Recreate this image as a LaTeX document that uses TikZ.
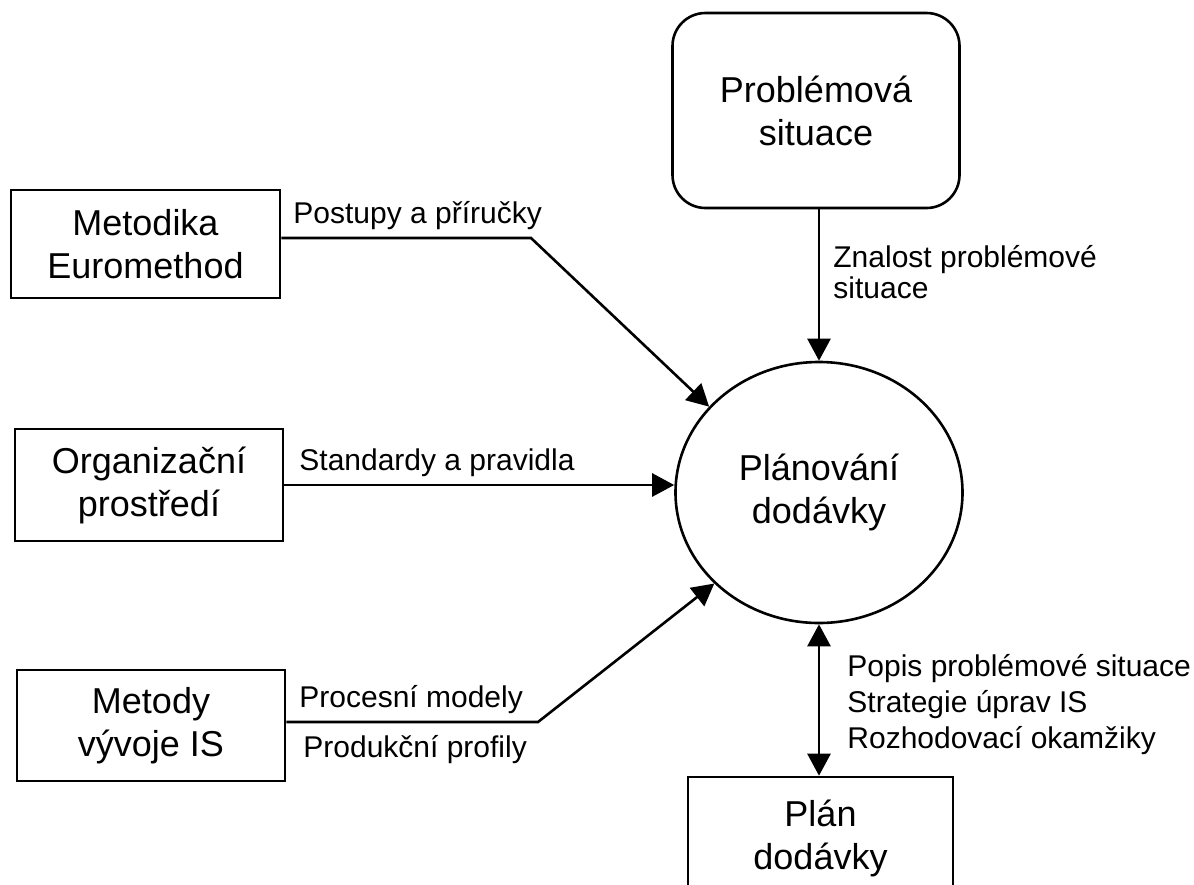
\documentclass[tikz,border=0pt]{standalone}
\usepackage{fontspec}
\setmainfont{Liberation Sans}
\usetikzlibrary{shapes,arrows.meta}

\begin{document}
\begin{tikzpicture}[x=0.5pt,y=-0.5pt]
		\tikzstyle {box} = [draw, line width=1.3pt, inner sep=0pt, align=center, font=\fontsize{18pt}{21.5pt}\selectfont]
		\tikzstyle {tag} = [inner sep=0pt, anchor=base west, align=left, font=\fontsize{15pt}{18pt}\selectfont]
		\tikzstyle {flow} = [line width=1.3pt, -{Triangle[length=11pt,width=11.5pt]}]
		\tikzstyle {both} = [line width=1.3pt, {Triangle[length=11pt,width=11.5pt]}-{Triangle[length=11pt,width=11.5pt]}]

		\useasboundingbox (0,0) rectangle (1194,884);
		\clip (0,0) rectangle (1194,884);

		\node[box, minimum width=134.5pt, minimum height=54pt] (euro) at (145.5,244) {Metodika\\Euromethod};
		\node[box, minimum width=134pt, minimum height=56pt] (org) at (149,485) {Organizační\\prostředí};
		\node[box, minimum width=134pt, minimum height=55.5pt] (metody) at (151,725.5) {Metody\\vývoje IS};
		\node[box, rounded corners=16.5pt, minimum width=143.5pt, minimum height=97.5pt] (prob) at (816,110.5) {Problémová\\situace};
		\node[box, ellipse, minimum width=143.5pt, minimum height=130.5pt] (plan) at (819,492.5) {Plánování\\dodávky};
		\node[box, minimum width=132.5pt, minimum height=61pt] (pland) at (820.5,838) {Plán\\dodávky};

		\coordinate (k1) at (531,238);
		\coordinate (k2) at (538,722);

		\draw[flow] (k1 -| euro.east) -- (k1) -- (plan.142);
		\draw[flow] (org.east) -- (org.east -| plan.west);
		\draw[flow] (k2 -| metody.east) -- (k2) -- (plan.221);
		\draw[flow] (plan.north |- prob.south) -- (plan.north);
		\draw[both] (plan.south) -- (plan.south |- pland.north);

		\node[tag] (postupy) at (293,223) {Postupy a příručky};
		\node[tag] (standard) at (299,470) {Standardy a pravidla};
		\node[tag] (proces) at (299,707) {Procesní modely};
		\node[tag] (produkt) at (303,757) {Produkční profily};
		\node[tag, font=\fontsize{15pt}{15.5pt}\selectfont] (znalost) at (833,298) {Znalost problémové\\situace};
		\node[tag] (popis) at (847,748) {Popis problémové situace\\Strategie úprav IS\\Rozhodovací okamžiky};

	\end{tikzpicture}
\end{document}
